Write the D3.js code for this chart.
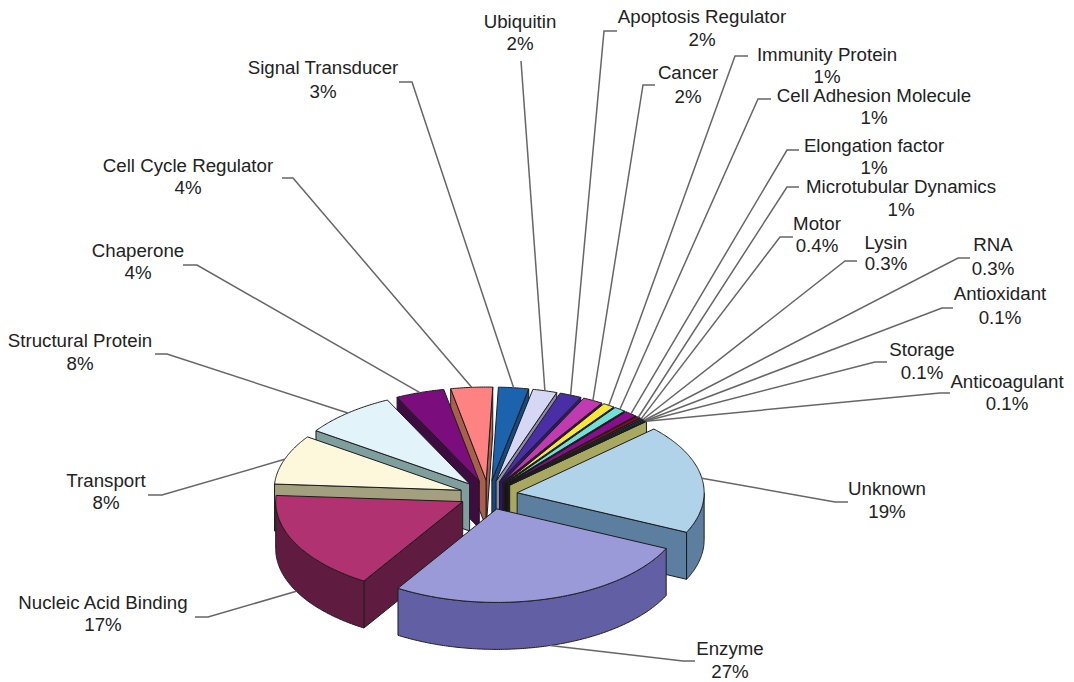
<!DOCTYPE html>
<html><head><meta charset="utf-8">
<style>html,body{margin:0;padding:0;background:#fff}svg{display:block}text{font-family:"Liberation Sans",Arial,sans-serif;font-size:18.7px;fill:#222}</style>
<script src="https://cdn.jsdelivr.net/npm/d3@7/dist/d3.min.js"></script>
</head><body><svg id="c" width="1074" height="682"></svg>
<script>
const names=["Unknown","Enzyme","Nucleic Acid Binding","Transport","Structural Protein","Chaperone","Cell Cycle Regulator","Signal Transducer","Ubiquitin","Apoptosis Regulator","Cancer","Immunity Protein","Cell Adhesion Molecule","Elongation factor","Microtubular Dynamics","Motor","Lysin","RNA","Antioxidant","Storage","Anticoagulant"];
const pctLabels=["19%","27%","17%","8%","8%","4%","4%","3%","2%","2%","2%","1%","1%","1%","1%","0.4%","0.3%","0.3%","0.1%","0.1%","0.1%"];
// slice sizes as read from the drawn wedges
const values=[18.9,26.9,17.2,8.6,8.1,4.2,3.6,2.6,2.1,1.9,1.75,1,1,1.1,0.4,0.2,0.15,0.15,0.05,0.05,0.05];
const topColors=["#b0d3ea","#9a9ad8","#b03070","#fdf8dc","#e2f3fa","#7c0e7c","#ff8282","#1f63ae","#d6d6f5","#4a2ea5","#c03ab0","#f8e832","#70e0d8","#8a0d8f","#8b1010","#3b3bb0","#2f7fc0","#3cc0d0","#222a80","#707070","#b0b070"];
const sideColors=["#5b7f9f","#625fa5","#5e1a3f","#a3a07f","#7f9f9f","#3e0740","#a85f4c","#124a80","#8c8ca8","#2a1a60","#301040","#141008","#0c1212","#0c040e","#0c0404","#08081a","#060a12","#060c10","#06060e","#080808","#a8a860"];
// label layout: centre x, line-1 y, line-2 y
const labelX=[887,730,103,106,80,138,188,323,520,702,688,827,874,874,901,817,886,993,1000,922,1007];
const labelY1=[488,648,602,480,340,250,165,67,21,16,72,54,95,145,186,223,242,244,293,349,381];
const labelY2=[511,671,624,502,363,272,187,91,43,39,96,76,117,167,209,245,263,268,317,372,403];
// leader stubs: start of stub, elbow
const stubStart=[[848,502],[695,661],[195,617],[148,495],[155,354],[183,265],[282,178],[399,82],[521,61],[617,31],[655,85],[748,56],[771,99],[799,150],[799,187],[793,237],[857,261],[970,258],[953,308],[887,362],[950,393]];
const stubElbow=[[835,502],[683,661],[208,617],[162,495],[167,354],[197,265],[293,178],[412,82],[521,61],[604,31],[643,85],[735,56],[758,99],[787,150],[787,187],[780,237],[845,261],[958,258],[942,308],[875,362],[940,393]];

const cx=488.5,cy=495,rx=187,ry=93.5,depth=47,explode=29/187;
const startDeg=47;
const TAU=Math.PI*2;
const X=d3.scaleLinear().domain([-1,1]).range([cx-rx,cx+rx]);
const Y=d3.scaleLinear().domain([-1,1]).range([cy+ry,cy-ry]);
const arcs=d3.pie().sort(null).startAngle(startDeg*Math.PI/180).endAngle(startDeg*Math.PI/180+TAU)(values);
const svg=d3.select("#c");
const defs=svg.append("defs");
defs.append("filter").attr("id","soft").append("feGaussianBlur").attr("stdDeviation",0.45);
const pie=svg.append("g").attr("filter","url(#soft)");
const line=d3.line().x(d=>d[0]).y(d=>d[1]);
const info=arcs.map(a=>{
  const mid=(a.startAngle+a.endAngle)/2;
  const ox=explode*Math.sin(mid),oy=explode*Math.cos(mid);
  const pt=(t,r=1,dz=0)=>[X(r*Math.sin(t)+ox),Y(r*Math.cos(t)+oy)+dz];
  return {a,mid,pt};
});
function arcPts(pt,t0,t1,dz){
  const n=Math.max(2,Math.ceil((t1-t0)/0.01));
  return d3.range(n+1).map(i=>pt(t0+(t1-t0)*i/n,1,dz));
}
const norm=t=>((t%TAU)+TAU)%TAU;
const order=info.slice().sort((p,q)=>Math.abs(norm(q.mid)-Math.PI)-Math.abs(norm(p.mid)-Math.PI));
const style=(s,fill)=>s.attr("fill",fill).attr("stroke","#1c1c1c").attr("stroke-width",1).attr("stroke-linejoin","round");
order.forEach(s=>{
  const {a,pt}=s,i=a.index,t0=a.startAngle,t1=a.endAngle,side=sideColors[i];
  const apex=pt(0,0,0),apexB=pt(0,0,depth);
  // radial walls facing the viewer
  if(Math.sin(t0)<0){const e=pt(t0,1,0),f=pt(t0,1,depth);style(pie.append("path").attr("d",line([apex,e,f,apexB])+"Z"),side);}
  if(Math.sin(t1)>0){const e=pt(t1,1,0),f=pt(t1,1,depth);style(pie.append("path").attr("d",line([apex,e,f,apexB])+"Z"),side);}
  // outer rim: front half of the ellipse only
  [[Math.PI/2,Math.PI*1.5],[Math.PI/2+TAU,Math.PI*1.5+TAU]].forEach(([lo,hi])=>{
    const r0=Math.max(t0,lo),r1=Math.min(t1,hi);
    if(r1>r0){
      const up=arcPts(pt,r0,r1,0),dn=arcPts(pt,r0,r1,depth).reverse();
      style(pie.append("path").attr("d",line(up.concat(dn))+"Z"),side);
    }
  });
  // top face
  style(pie.append("path").attr("d",line([apex].concat(arcPts(pt,t0,t1,0)))+"Z"),topColors[i]);
});
// leaders
info.forEach(s=>{
  const i=s.a.index,m=norm(s.mid);
  const front=m>Math.PI/2&&m<Math.PI*1.5;
  const end=s.pt(s.mid,1,front?depth:0);
  svg.append("path").attr("d",line([stubStart[i],stubElbow[i],end])).attr("fill","none").attr("stroke","#666").attr("stroke-width",1.5);
});
// labels
names.forEach((n,i)=>{
  svg.append("text").attr("x",labelX[i]).attr("y",labelY1[i]).attr("text-anchor","middle").attr("dominant-baseline","central").text(n);
  svg.append("text").attr("x",labelX[i]).attr("y",labelY2[i]).attr("text-anchor","middle").attr("dominant-baseline","central").text(pctLabels[i]);
});
</script></body></html>
